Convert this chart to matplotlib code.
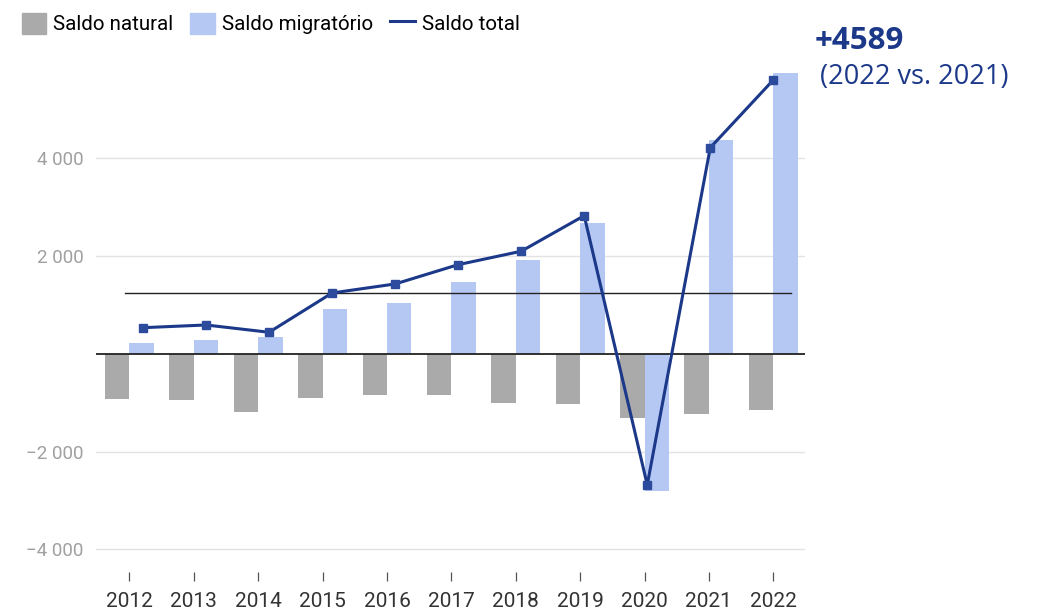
import numpy as np
import matplotlib.pyplot as plt
from matplotlib.patches import Patch
from matplotlib.lines import Line2D

plt.rcParams['font.family'] = ['Roboto', 'DejaVu Sans']

# data
years = [2012, 2013, 2014, 2015, 2016, 2017, 2018, 2019, 2020, 2021, 2022]
saldo_natural = [-932, -952, -1191, -905, -850, -850, -1007, -1028, -1314, -1238, -1150]
saldo_migratorio = [212, 280, 347, 913, 1036, 1465, 1908, 2670, -2799, 4360, 5728]
saldo_total = [531, 586, 437, 1240, 1424, 1818, 2092, 2819, -2682, 4208, 5591]
ref_level = 1234
yticks = [-4000, -2000, 2000, 4000]
ytick_labels = ['\u22124 000', '\u22122 000', '2 000', '4 000']

grey = '#aaaaaa'
blue = '#b5c8f4'
navy = '#1b3889'

fig = plt.figure(figsize=(10.38, 6.14), dpi=100)
ax = fig.add_axes([0.0925, 0.0692, 0.6835, 0.8212])

x = np.array(years, dtype=float)
w = 0.38
ax.bar(x - w / 2, saldo_natural, width=w, color=grey, zorder=2)
ax.bar(x + w / 2, saldo_migratorio, width=w, color=blue, zorder=2)

# the total line sits on a slightly different x scale in the original
xl = np.linspace(2012.21, 2022.0, len(years))
ax.plot(xl, saldo_total, color=navy, lw=2.2, marker='s', ms=6,
        mfc='#2d4b9c', mec='#2d4b9c', zorder=4)

ax.axhline(0, color='#222222', lw=1.3, zorder=3)
ax.axhline(ref_level, xmin=0.041, xmax=0.979, color='#222222', lw=1.0, zorder=3)

ax.set_xlim(2011.48, 2022.5)
ax.set_ylim(-4450, 5850)
ax.set_yticks(yticks)
ax.set_yticklabels(ytick_labels)
ax.set_xticks(years)
ax.set_xticklabels([str(y) for y in years])
ax.yaxis.grid(True, color='#e3e3e3', lw=1.0, zorder=0)
ax.set_axisbelow(True)
for s in ax.spines.values():
    s.set_visible(False)
ax.tick_params(axis='y', length=0, pad=9, labelsize=13.5, labelcolor='#a0a0a0')
ax.tick_params(axis='x', length=6.5, width=0.9, color='#555555', pad=8,
               labelsize=15, labelcolor='#333333')

handles = [Patch(color=grey, label='Saldo natural'),
           Patch(color=blue, label='Saldo migratório'),
           Line2D([], [], color=navy, lw=2.2, label='Saldo total')]
fig.legend(handles=handles, loc='upper left', bbox_to_anchor=(0.005, 1.006),
           ncol=3, frameon=False, fontsize=14.8, handlelength=1.2,
           handleheight=1.2, handletextpad=0.32, columnspacing=0.85,
           borderpad=0.3)

fig.text(0.785, 0.933, '+4589', color=navy, fontsize=22.5, fontweight='bold',
         family=['Open Sans', 'DejaVu Sans'], va='center')
fig.text(0.79, 0.875, '(2022 vs. 2021)', color=navy, fontsize=19.5,
         family=['Open Sans', 'DejaVu Sans'], va='center')

fig.savefig('out.png', dpi=100)
